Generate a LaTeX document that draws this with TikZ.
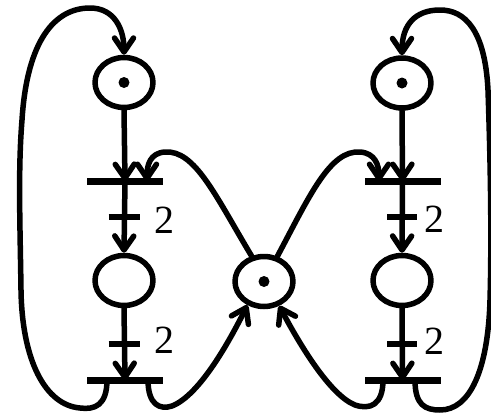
\documentclass[tikz,border=0pt]{standalone}
\usepackage{fontspec}
\setmainfont{Liberation Serif}
\usetikzlibrary{shapes.geometric,arrows.meta}
\begin{document}
\begin{tikzpicture}[x=1pt,y=-1pt,
  line width=5.5pt, line cap=round, line join=round,
  place/.style={draw, ellipse, minimum width=58pt, minimum height=50pt, inner sep=0pt},
  trans/.style={fill=black, draw=none, rectangle, minimum width=76pt, minimum height=7pt, inner sep=0pt},
  arr/.style={-{Straight Barb[length=14pt,width=19pt,round]}},
  tick/.style={line cap=butt},
  wlabel/.style={font=\rmfamily\fontsize{40}{40}\selectfont, inner sep=0pt}]
\useasboundingbox (0,0) rectangle (491,413);
% places
\node[place] (p1) at (124,82.5) {};
\node[place] (p2) at (124,280.5) {};
\node[place] (p3) at (402,83) {};
\node[place] (p4) at (402,280.5) {};
\node[place] (pm) at (264,281.5) {};
% tokens
\fill (p1.center) circle (5.5pt);
\fill (p3.center) circle (5.5pt);
\fill (pm.center) circle (5.5pt);
% transitions
\node[trans] (t1) at (125,181) {};
\node[trans] (t2) at (125,380) {};
\node[trans] (t3) at (402.5,181) {};
\node[trans] (t4) at (402.5,380) {};
% vertical arcs, left
\draw[arr] (p1.south) -- (t1.center);
\draw[arr] (t1.center) -- node[coordinate,pos=.5] (w1) {} (p2.north);
\draw[arr] (p2.south) -- node[coordinate,pos=.5] (w2) {} (t2.center);
\draw[tick] ([xshift=-16pt]w1) -- ([xshift=15pt]w1);
\draw[tick] ([xshift=-16pt]w2) -- ([xshift=15pt]w2);
\node[wlabel] (l1) at (164,220) {2};
\node[wlabel] (l2) at (164,340) {2};
% vertical arcs, right
\draw[arr] (p3.south) -- (t3.center);
\draw[arr] (t3.center) -- node[coordinate,pos=.5] (w3) {} (p4.north);
\draw[arr] (p4.south) -- node[coordinate,pos=.5] (w4) {} (t4.center);
\draw[tick] ([xshift=-15pt]w3) -- ([xshift=15pt]w3);
\draw[tick] ([xshift=-15pt]w4) -- ([xshift=15pt]w4);
\node[wlabel] (l3) at (434,219) {2};
\node[wlabel] (l4) at (434,341) {2};
% outer loops
\draw[arr] ([xshift=-18pt]t2.center) .. controls (107,405) and (95,410) .. (80,408)
  .. controls (45,405) and (22,360) .. (21,290)
  .. controls (20,220) and (18,170) .. (22,120)
  .. controls (27,40) and (55,8) .. (90,8)
  .. controls (115,8) and (124,30) .. (p1.north);
\draw[arr] ([xshift=12.5pt]t4.center) .. controls (415,405) and (425,410) .. (440,410)
  .. controls (470,410) and (488,370) .. (490,300)
  .. controls (492,230) and (490,150) .. (488,90)
  .. controls (485,30) and (465,10) .. (440,10)
  .. controls (415,10) and (402,25) .. (p3.north);
% crossing arcs, place to upper transitions
\draw[arr] (pm.116) .. controls (215,195) and (195,150) .. (165,152)
  .. controls (150,153) and (147,165) .. ([xshift=22pt]t1.center);
\draw[arr] (pm.62) .. controls (310,195) and (330,150) .. (360,152)
  .. controls (375,153) and (379,165) .. ([xshift=-23.5pt]t3.center);
% lower transitions to place
\draw[arr] ([xshift=23pt]t2.center) .. controls (148,405) and (160,410) .. (172,406)
  .. controls (200,395) and (230,340) .. (pm.235);
\draw[arr] ([xshift=-19.5pt]t4.center) .. controls (383,405) and (370,410) .. (355,405)
  .. controls (330,395) and (300,345) .. (pm.-58);
\end{tikzpicture}
\end{document}
